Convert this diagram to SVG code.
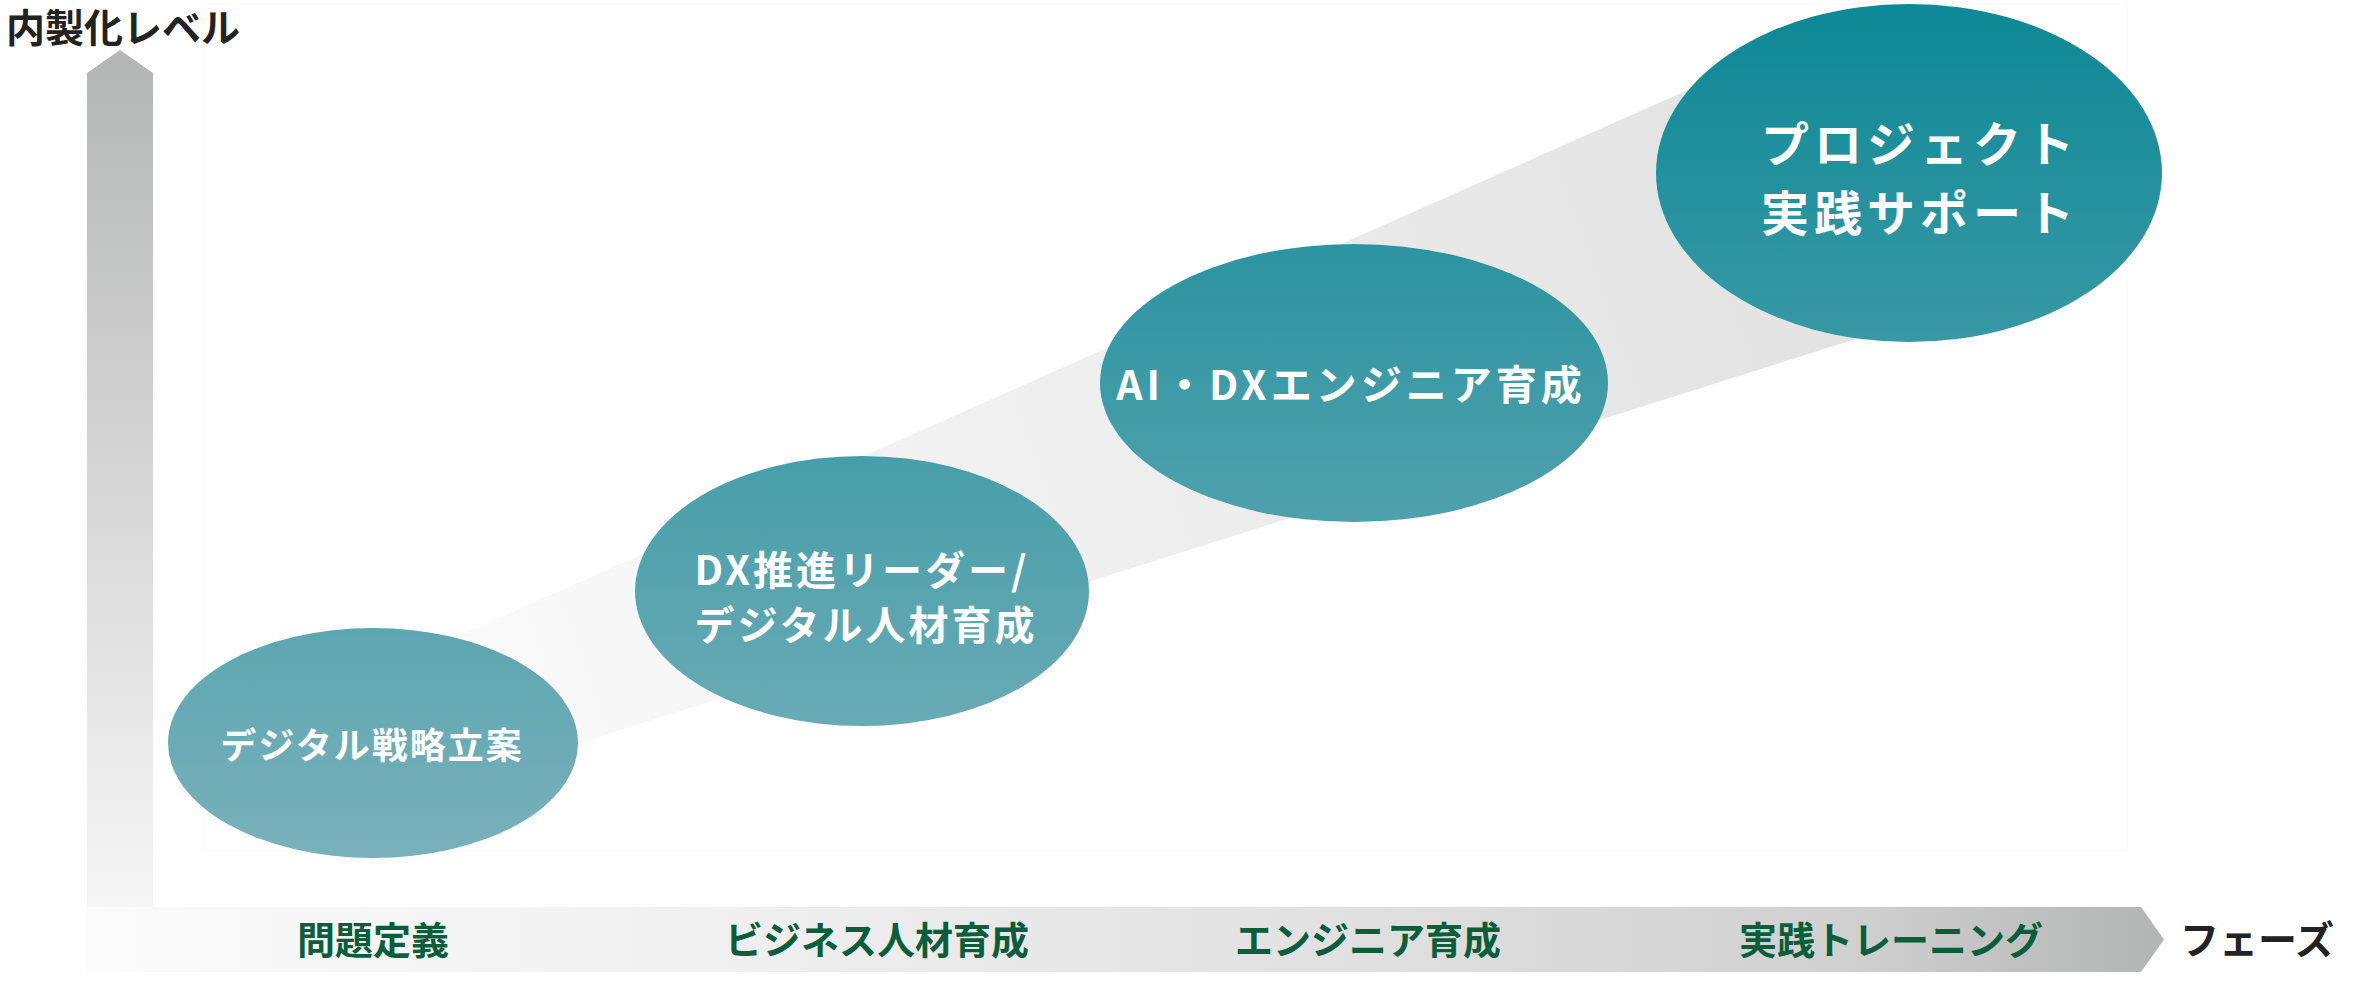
<svg xmlns="http://www.w3.org/2000/svg" width="2354" height="982" viewBox="0 0 2354 982">
<style>
  .jp { font-family: "Noto Sans CJK JP", "Noto Sans", sans-serif; }
  .node-text { fill: #ffffff; font-weight: 700; text-anchor: middle; }
  .phase { fill: #0b5d3b; font-weight: 700; font-size: 38px; text-anchor: middle; }
  .axis-title { fill: #222222; font-weight: 700; font-size: 39px; }
</style>
<defs>
  <linearGradient id="gEllipse" gradientUnits="userSpaceOnUse" x1="0" y1="0" x2="0" y2="860">
    <stop offset="0" stop-color="#0d8896"/>
    <stop offset="1" stop-color="#7ab1bb"/>
  </linearGradient>
  <linearGradient id="gBand" gradientUnits="userSpaceOnUse" x1="450" y1="700" x2="1850" y2="200">
    <stop offset="0" stop-color="#fafafa"/>
    <stop offset="0.45" stop-color="#efefef"/>
    <stop offset="1" stop-color="#e2e2e2"/>
  </linearGradient>
  <linearGradient id="gVert" gradientUnits="userSpaceOnUse" x1="0" y1="50" x2="0" y2="972">
    <stop offset="0" stop-color="#b4b6b5"/>
    <stop offset="0.35" stop-color="#cdcecd"/>
    <stop offset="0.7" stop-color="#e6e6e6"/>
    <stop offset="1" stop-color="#fbfbfb"/>
  </linearGradient>
  <linearGradient id="gHoriz" gradientUnits="userSpaceOnUse" x1="87" y1="0" x2="2164" y2="0">
    <stop offset="0" stop-color="#fbfbfb"/>
    <stop offset="0.3" stop-color="#f0f0f0"/>
    <stop offset="0.6" stop-color="#e1e1e1"/>
    <stop offset="0.85" stop-color="#cfd0cf"/>
    <stop offset="1" stop-color="#b3b5b4"/>
  </linearGradient>
</defs>

<rect x="0" y="0" width="2354" height="982" fill="#ffffff"/>
<rect x="203" y="4" width="1924" height="847" fill="none" stroke="#fafafa" stroke-width="1"/>

<g id="axis-y">
  <polygon points="87,972 87,73 120,50 153,73 153,972" fill="url(#gVert)"/>
  <text class="jp axis-title" x="6" y="42">内製化レベル</text>
</g>

<g id="axis-x">
  <polygon points="87,907 2141,907 2164,939.5 2141,972 87,972" fill="url(#gHoriz)"/>
  <text class="jp phase" x="373" y="954">問題定義</text>
  <text class="jp phase" x="877" y="954">ビジネス人材育成</text>
  <text class="jp phase" x="1368" y="954">エンジニア育成</text>
  <text class="jp phase" x="1891" y="954">実践トレーニング</text>
  <text class="jp axis-title" x="2180" y="954">フェーズ</text>
</g>

<g id="connectors">
  <polygon points="400,662 1760,58 1900,325 500,768" fill="url(#gBand)"/>
</g>

<g id="node-1">
  <ellipse cx="373" cy="743" rx="205" ry="115" fill="url(#gEllipse)"/>
  <text class="jp node-text" x="372" y="759" font-size="36" letter-spacing="2">デジタル戦略立案</text>
</g>

<g id="node-2">
  <ellipse cx="862" cy="591" rx="227" ry="135" fill="url(#gEllipse)"/>
  <text class="jp node-text" x="862" y="585" font-size="40" letter-spacing="3">DX推進リーダー/</text>
  <text class="jp node-text" x="866" y="640" font-size="40" letter-spacing="3">デジタル人材育成</text>
</g>

<g id="node-3">
  <ellipse cx="1354" cy="383" rx="254" ry="139" fill="url(#gEllipse)"/>
  <text class="jp node-text" x="1351" y="400" font-size="41" letter-spacing="4">AI・DXエンジニア育成</text>
</g>

<g id="node-4">
  <ellipse cx="1909" cy="173" rx="253" ry="169" fill="url(#gEllipse)"/>
  <text class="jp node-text" x="1920" y="162" font-size="48" letter-spacing="5">プロジェクト</text>
  <text class="jp node-text" x="1920" y="231" font-size="48" letter-spacing="5">実践サポート</text>
</g>
</svg>
